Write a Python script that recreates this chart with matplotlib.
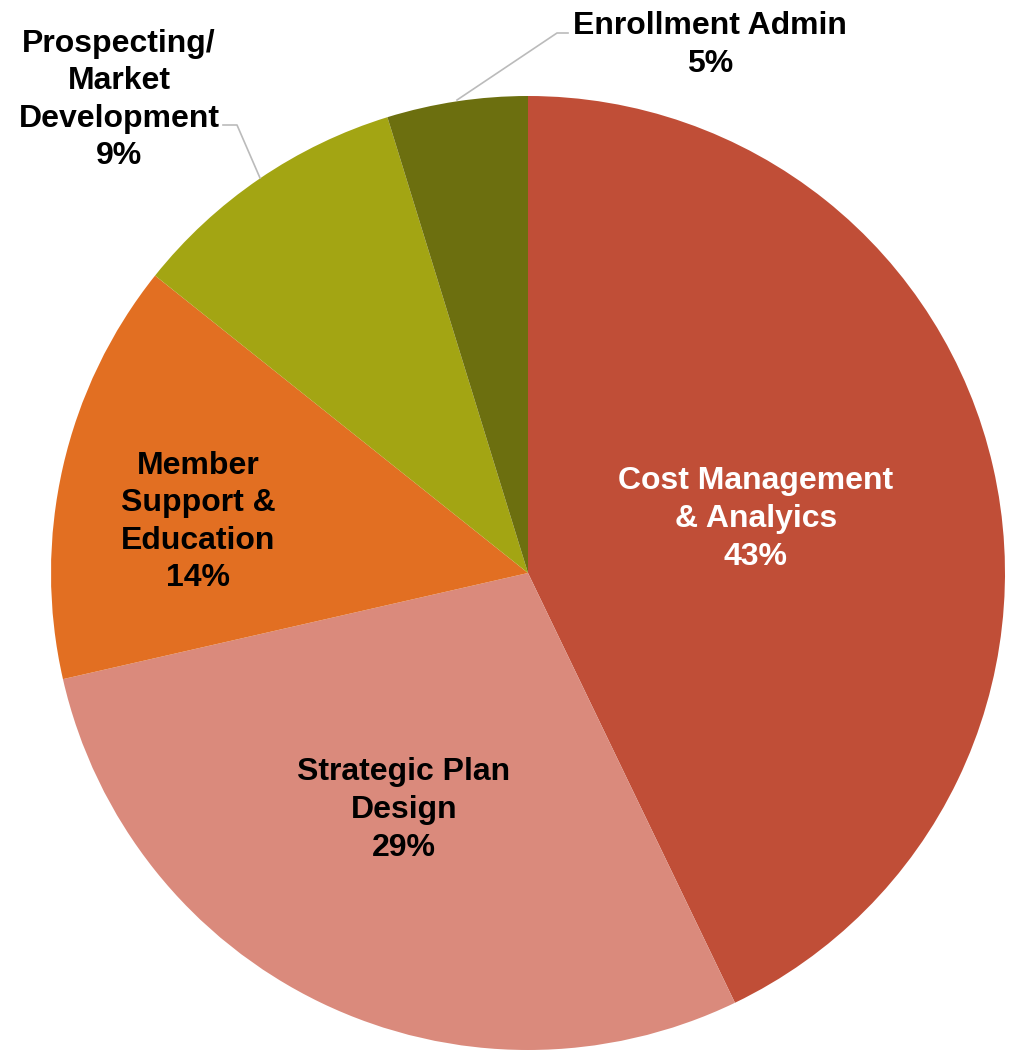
import matplotlib
matplotlib.use("Agg")
import matplotlib.pyplot as plt

categories = ["Cost Management\n& Analyics", "Strategic Plan\nDesign", "Member\nSupport &\nEducation",
              "Prospecting/\nMarket\nDevelopment", "Enrollment Admin"]
values = [9, 6, 3, 2, 1]
pct_labels = ["43%", "29%", "14%", "9%", "5%"]
colors = ["#C04E37", "#DA8A7C", "#E26F22", "#A3A513", "#6C6F0F"]
text_colors = ["white", "black", "black", "black", "black"]

W, H = 1015, 1051
fig = plt.figure(figsize=(W / 100, H / 100), dpi=100)
ax = fig.add_axes([0, 0, 1, 1])

cx, cy, r = 528, H - 573, 477
ax.pie(values, colors=colors, startangle=90, counterclock=False,
       center=(cx, cy), radius=r, frame=True,
       wedgeprops=dict(linewidth=0))
ax.set_xlim(0, W)
ax.set_ylim(0, H)
ax.set_aspect("equal")
ax.axis("off")

label_pos = [(756, 519), (404, 810), (198, 522), (119, 100), (710, 45)]
for cat, pct, (px, py), tc in zip(categories, pct_labels, label_pos, text_colors):
    ax.text(px, H - py, cat + "\n" + pct, ha="center", va="center",
            fontsize=23, fontweight="bold", family="Liberation Sans",
            color=tc, linespacing=1.33)

# leader lines
ax.plot([568, 557, 457], [H - 33, H - 33, H - 100], color="#BBBBBB", lw=1.2)
ax.plot([223, 237, 260], [H - 125, H - 125, H - 178], color="#BBBBBB", lw=1.2)

fig.savefig("out.png", dpi=100)
